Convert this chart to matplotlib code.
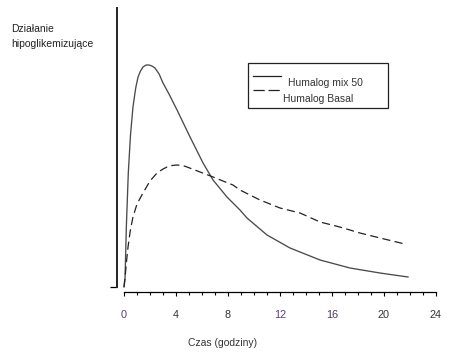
import matplotlib.pyplot as plt
from matplotlib.patches import Rectangle
from matplotlib.ticker import MultipleLocator

plt.rcParams['font.family'] = ['Liberation Sans', 'DejaVu Sans']

# hours vs. effect (arbitrary units)
t_mix = [0, 0.08, 0.18, 0.33, 0.5, 0.69, 0.9, 1.08, 1.27, 1.46, 1.7, 1.92, 2.15, 2.38,
         2.7, 3.0, 3.5, 4.08, 5.08, 6.08, 6.85, 7.92, 8.92, 9.46, 11.0, 12.77,
         15.08, 17.38, 19.69, 21.85]
v_mix = [0, 9, 60, 114, 152, 180, 199, 210, 216, 220, 222, 222, 221, 219,
         213, 204, 192, 177, 150, 124, 107, 90, 77, 69, 52, 39,
         27, 19, 14, 10]

t_basal = [0, 0.08, 0.18, 0.31, 0.48, 0.69, 1.0, 1.46, 2.0, 2.54, 3.0, 3.31, 3.7, 4.08,
           4.5, 4.85, 5.85, 6.85, 8.38, 8.92, 10.46, 12.0, 13.54, 15.08, 16.6,
           18.15, 19.7, 21.6]
v_basal = [0, 9, 24, 40, 56, 70, 83, 94, 106, 114, 118, 120, 121.5, 122,
           121.5, 120, 115, 110, 102, 97, 87, 79, 74, 65, 60,
           54, 49, 43]

xticks = [0, 4, 8, 12, 16, 20, 24]
tick_colors = ['#5a3a7a', '#333333', '#333333', '#5a3a7a', '#4a3a5a', '#333333', '#333333']

W, H = 466, 355
fig = plt.figure(figsize=(W / 100, H / 100), dpi=100)

def fx(px):
    return px / W

def fy(py):
    return 1 - py / H

# axes: left edge at x=117, right at 436, top y=8, bottom y=292
ax = fig.add_axes([fx(117), fy(292), fx(436) - fx(117), fy(8) - fy(292)])
ax.set_xlim(-7 / 13, 24)
ax.set_ylim(-5, 279)

ax.plot(t_mix, v_mix, color='#4a4a4a', lw=0.95)
ax.plot(t_basal, v_basal, color='#222222', lw=0.9, dashes=(6.5, 3.5))

for s in ['top', 'right']:
    ax.spines[s].set_visible(False)
ax.spines['left'].set_bounds(0, 279)
ax.spines['left'].set_linewidth(1.4)
ax.spines['left'].set_color('#222222')
ax.spines['bottom'].set_bounds(0, 24)
ax.spines['bottom'].set_linewidth(0.9)

ax.set_yticks([0])
ax.set_yticklabels([])
ax.tick_params(axis='y', length=5, width=0.9, direction='out')

ax.set_xticks(xticks)
ax.set_xticklabels([str(x) for x in xticks], fontsize=7.8)
ax.xaxis.set_minor_locator(MultipleLocator(1))
ax.tick_params(axis='x', which='major', length=3, width=0.8, direction='out', pad=10)
ax.tick_params(axis='x', which='minor', length=2.2, width=0.8, direction='out')
for lab, c in zip(ax.get_xticklabels(), tick_colors):
    lab.set_color(c)

fig.text(fx(223), fy(343), 'Czas (godziny)', fontsize=7.5, ha='center', va='center', color='#333333')
fig.text(fx(11), fy(29), 'Działanie', fontsize=7.5, ha='left', va='center', color='#222222')
fig.text(fx(11), fy(44), 'hipoglikemizujące', fontsize=7.5, ha='left', va='center', color='#222222')

# hand drawn legend box
fig.add_artist(Rectangle((fx(248), fy(108)), fx(388) - fx(248), fy(63) - fy(108),
                         transform=fig.transFigure, fill=False, lw=0.9, ec='#222222'))
fig.add_artist(plt.Line2D([fx(253), fx(281)], [fy(76), fy(76)], transform=fig.transFigure,
                          color='#222222', lw=0.9))
fig.add_artist(plt.Line2D([fx(253), fx(281)], [fy(90), fy(90)], transform=fig.transFigure,
                          color='#222222', lw=0.9, dashes=(9, 3)))
fig.text(fx(288), fy(83), 'Humalog mix 50', fontsize=7.5, ha='left', va='center', color='#333333')
fig.text(fx(283), fy(99), 'Humalog Basal', fontsize=7.5, ha='left', va='center', color='#333333')

fig.savefig('out.png', dpi=100)
